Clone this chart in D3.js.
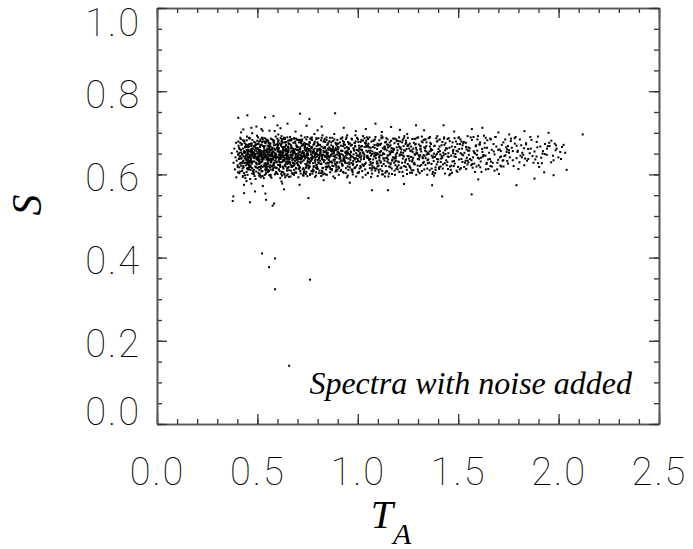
<!DOCTYPE html>
<html>
<head>
<meta charset="utf-8">
<script src="https://cdn.jsdelivr.net/npm/d3@7"></script>
<style>
  body { margin: 0; background: #fff; }
  svg { display: block; }
  .lbl { font-family: "Roboto", "Inter", sans-serif; font-weight: 100; font-size: 38px; fill: #000; letter-spacing: 2px; }
  .serif { font-family: "Liberation Serif", "Times New Roman", Times, "DejaVu Serif", serif; font-style: italic; }
</style>
</head>
<body>
<svg id="chart" width="693" height="549"></svg>
<script>
// tick values
const taTicks = [0, 0.5, 1.0, 1.5, 2.0, 2.5];
const sTicks = [0, 0.2, 0.4, 0.6, 0.8, 1.0];

// main band of points, T_A (left to right)
const cloudTA = [
  .372,.381,.385,.388,.391,.394,.397,.399,.402,.404,
  .406,.408,.410,.411,.413,.415,.416,.418,.419,.421,
  .422,.424,.425,.427,.428,.430,.431,.433,.434,.435,
  .437,.438,.439,.441,.442,.443,.444,.445,.446,.447,
  .448,.449,.450,.451,.452,.453,.446,.419,.433,.395,
  .451,.461,.470,.478,.489,.497,.506,.514,.525,.537,
  .453,.459,.467,.481,.487,.499,.508,.519,.529,.541,
  .456,.464,.472,.483,.491,.501,.511,.521,.532,.545,
  .458,.466,.475,.485,.494,.503,.513,.523,.534,.548,
  .452,.463,.473,.482,.493,.504,.516,.526,.538,.549,
  .455,.465,.476,.487,.496,.507,.517,.528,.539,.544,
  .457,.468,.477,.488,.498,.509,.518,.531,.540,.550,
  .450,.460,.471,.480,.490,.500,.510,.520,.530,.543,
  .454,.467,.474,.484,.495,.505,.515,.524,.535,.546,
  .459,.469,.479,.490,.499,.511,.522,.533,.541,.547,
  .452,.461,.472,.486,.492,.502,.512,.527,.536,.548,
  .456,.466,.478,.489,.497,.508,.519,.529,.542,.551,
  .453,.463,.474,.485,.496,.506,.514,.526,.537,.549,
  .458,.470,.481,.491,.501,.513,.523,.532,.544,.550,
  .451,.464,.476,.483,.494,.504,.517,.525,.539,.545,
  .552,.560,.571,.579,.588,.598,.607,.615,.626,.636,
  .554,.563,.569,.582,.590,.601,.609,.620,.630,.640,
  .557,.565,.574,.584,.593,.603,.612,.622,.633,.644,
  .559,.567,.576,.586,.595,.604,.614,.624,.635,.647,
  .553,.562,.573,.583,.592,.605,.617,.627,.637,.649,
  .556,.566,.577,.588,.597,.608,.616,.628,.638,.643,
  .558,.568,.578,.589,.599,.610,.619,.632,.641,.650,
  .551,.561,.572,.581,.591,.600,.611,.621,.631,.642,
  .555,.566,.575,.585,.596,.606,.616,.625,.634,.645,
  .560,.570,.580,.591,.600,.612,.623,.634,.642,.648,
  .553,.562,.573,.587,.593,.603,.613,.628,.637,.646,
  .557,.567,.579,.590,.598,.609,.620,.630,.643,.649,
  .554,.564,.575,.586,.597,.607,.615,.627,.638,.647,
  .559,.571,.582,.592,.602,.614,.624,.633,.645,.650,
  .552,.565,.577,.584,.595,.605,.618,.626,.640,.646,
  .652,.661,.669,.678,.688,.697,.706,.716,.727,.738,
  .655,.663,.672,.682,.691,.700,.710,.720,.731,.742,
  .657,.666,.674,.684,.694,.703,.713,.723,.733,.745,
  .659,.668,.677,.687,.696,.705,.715,.725,.736,.748,
  .651,.662,.673,.681,.692,.704,.714,.726,.737,.749,
  .654,.665,.676,.686,.695,.707,.717,.728,.739,.744,
  .656,.667,.678,.689,.699,.709,.719,.730,.740,.750,
  .650,.660,.671,.680,.690,.701,.711,.721,.732,.743,
  .653,.664,.675,.685,.693,.702,.712,.724,.734,.746,
  .658,.670,.679,.690,.698,.708,.718,.729,.741,.747,
  .652,.663,.674,.683,.694,.706,.716,.727,.735,.744,
  .657,.668,.680,.688,.697,.706,.720,.731,.739,.749,
  .655,.666,.677,.684,.693,.704,.713,.722,.738,.748,
  .752,.761,.771,.780,.790,.799,.808,.818,.829,.840,
  .754,.764,.773,.783,.792,.802,.811,.822,.832,.843,
  .757,.766,.776,.786,.795,.804,.814,.824,.835,.846,
  .759,.769,.778,.788,.797,.807,.817,.827,.837,.848,
  .751,.762,.774,.785,.794,.805,.815,.826,.838,.849,
  .756,.767,.777,.789,.798,.809,.819,.830,.841,.845,
  .758,.768,.779,.791,.800,.812,.821,.833,.842,.850,
  .753,.763,.772,.782,.793,.803,.813,.823,.834,.844,
  .755,.765,.775,.784,.796,.806,.816,.825,.836,.847,
  .760,.770,.781,.787,.799,.810,.820,.831,.839,.849,
  .752,.762,.775,.786,.797,.808,.818,.828,.840,.846,
  .852,.863,.872,.882,.893,.903,.913,.924,.935,.946,
  .855,.866,.876,.886,.896,.906,.917,.927,.938,.948,
  .858,.869,.878,.889,.899,.909,.920,.930,.941,.950,
  .851,.861,.871,.884,.894,.905,.915,.925,.936,.944,
  .856,.867,.877,.887,.898,.908,.918,.929,.939,.949,
  .853,.864,.874,.885,.895,.904,.916,.926,.937,.947,
  .859,.868,.879,.890,.900,.911,.921,.931,.942,.950,
  .854,.865,.875,.883,.897,.907,.919,.928,.940,.945,
  .857,.862,.873,.888,.892,.902,.912,.923,.933,.943,
  .953,.965,.976,.987,.998,1.009,1.020,1.031,1.042,.958,
  .956,.968,.979,.990,1.001,1.012,1.023,1.034,1.045,.972,
  .960,.971,.982,.993,1.004,1.015,1.026,1.037,1.048,.985,
  .951,.963,.974,.985,.996,1.007,1.018,1.029,1.040,1.049,
  .955,.967,.978,.989,1.000,1.011,1.022,1.033,1.044,.996,
  .958,.969,.981,.992,1.003,1.014,1.025,1.036,1.047,1.005,
  .962,.973,.984,.995,1.006,1.017,1.028,1.039,1.050,1.020,
  .954,.966,.977,.988,.999,1.010,1.021,1.032,1.043,1.013,
  1.052,1.064,1.075,1.087,1.098,1.110,1.121,1.133,1.144,1.058,
  1.055,1.067,1.078,1.090,1.101,1.113,1.124,1.136,1.147,1.083,
  1.059,1.070,1.082,1.093,1.105,1.116,1.128,1.139,1.150,1.096,
  1.051,1.062,1.073,1.085,1.096,1.108,1.119,1.131,1.142,1.107,
  1.056,1.068,1.080,1.091,1.103,1.114,1.126,1.137,1.148,1.120,
  1.061,1.072,1.084,1.095,1.106,1.118,1.129,1.141,1.146,1.132,
  1.053,1.066,1.077,1.088,1.099,1.111,1.122,1.134,1.145,1.104,
  1.152,1.164,1.177,1.189,1.201,1.213,1.226,1.238,1.247,1.170,
  1.155,1.168,1.180,1.192,1.204,1.217,1.229,1.241,1.249,1.196,
  1.158,1.171,1.183,1.195,1.208,1.220,1.232,1.244,1.160,1.211,
  1.151,1.163,1.175,1.187,1.199,1.212,1.224,1.236,1.248,1.184,
  1.157,1.169,1.182,1.194,1.206,1.218,1.231,1.243,1.190,1.222,
  1.153,1.166,1.179,1.191,1.203,1.215,1.228,1.240,1.246,1.174,
  1.161,1.186,1.205,1.227,1.239,
  1.253,1.266,1.279,1.292,1.305,1.318,1.331,1.344,1.260,1.312,
  1.256,1.270,1.283,1.296,1.309,1.322,1.335,1.347,1.288,1.327,
  1.259,1.273,1.286,1.299,1.312,1.325,1.338,1.349,1.276,1.301,
  1.251,1.264,1.277,1.290,1.303,1.316,1.329,1.342,1.268,1.337,
  1.258,1.271,1.285,1.298,1.311,1.324,1.336,1.346,1.293,1.319,
  1.262,1.281,1.307,1.333,1.341,
  1.353,1.367,1.381,1.395,1.409,1.423,1.437,1.448,1.360,1.402,
  1.356,1.370,1.384,1.398,1.412,1.426,1.440,1.374,1.390,1.431,
  1.359,1.373,1.387,1.401,1.415,1.429,1.443,1.364,1.418,1.446,
  1.351,1.365,1.379,1.393,1.407,1.421,1.435,1.449,1.385,1.428,
  1.357,1.378,1.396,1.411,1.433,1.444,1.368,1.405,
  1.453,1.468,1.483,1.498,1.513,1.528,1.543,1.460,1.505,1.537,
  1.456,1.471,1.486,1.501,1.516,1.531,1.546,1.476,1.492,1.522,
  1.459,1.474,1.489,1.504,1.519,1.534,1.549,1.465,1.511,1.540,
  1.451,1.466,1.481,1.496,1.509,1.525,1.539,1.479,1.518,1.547,
  1.553,1.570,1.587,1.604,1.621,1.638,1.562,1.595,1.612,1.644,
  1.557,1.574,1.591,1.608,1.625,1.642,1.580,1.616,1.632,1.566,
  1.551,1.568,1.585,1.602,1.619,1.636,1.598,1.628,1.649,1.577,
  1.610,1.589,
  1.654,1.672,1.690,1.708,1.726,1.744,1.663,1.699,1.717,1.735,
  1.658,1.676,1.694,1.712,1.730,1.748,1.667,1.685,1.721,1.739,
  1.681,1.703,1.741,1.660,1.725,1.714,
  1.753,1.772,1.791,1.810,1.829,1.848,1.762,1.800,1.819,1.838,
  1.757,1.776,1.795,1.814,1.833,1.781,1.805,1.824,1.843,1.767,
  1.856,1.875,1.894,1.913,1.932,1.865,1.903,1.922,1.941,1.884,
  1.861,1.890,1.917,1.946,1.928,
  1.955,1.972,1.990,2.008,2.025,1.963,1.981,1.999,2.017,2.033,
  1.985,2.012
];

// main band of points, S (same order as cloudTA)
const cloudS = [
  .651,.628,.662,.612,.641,.676,.633,.655,.618,.647,
  .669,.637,.603,.652,.626,.688,.644,.659,.621,.639,
  .673,.608,.648,.631,.662,.644,.617,.681,.652,.627,
  .639,.665,.598,.654,.636,.672,.622,.646,.659,.633,
  .691,.614,.650,.640,.667,.625,.584,.701,.575,.593,
  .643,.628,.661,.652,.619,.637,.674,.646,.608,.657,
  .635,.667,.648,.603,.642,.681,.631,.654,.639,.622,
  .659,.641,.626,.668,.649,.615,.644,.672,.653,.636,
  .617,.655,.683,.639,.627,.661,.598,.646,.665,.641,
  .649,.633,.656,.611,.671,.642,.629,.688,.645,.624,
  .666,.621,.645,.658,.637,.652,.614,.639,.677,.603,
  .642,.674,.631,.647,.693,.625,.657,.641,.618,.662,
  .628,.647,.669,.606,.644,.663,.636,.621,.650,.679,
  .671,.639,.615,.653,.628,.646,.684,.632,.658,.645,
  .612,.658,.643,.676,.651,.601,.640,.664,.627,.655,
  .654,.686,.627,.641,.662,.634,.648,.572,.668,.638,
  .639,.611,.652,.665,.624,.679,.643,.656,.609,.633,
  .667,.645,.699,.631,.656,.642,.618,.705,.650,.626,
  .622,.653,.640,.589,.673,.659,.636,.647,.684,.660,
  .657,.632,.663,.648,.607,.638,.670,.596,.641,.615,
  .648,.671,.633,.655,.617,.642,.663,.629,.651,.688,
  .626,.645,.659,.641,.602,.668,.637,.654,.614,.646,
  .663,.612,.648,.676,.639,.623,.652,.683,.640,.631,
  .637,.658,.621,.644,.662,.696,.618,.647,.665,.609,
  .652,.634,.684,.627,.649,.641,.672,.606,.658,.643,
  .619,.667,.643,.659,.631,.654,.637,.661,.624,.678,
  .646,.629,.611,.650,.673,.638,.601,.645,.669,.636,
  .681,.653,.638,.621,.645,.662,.648,.674,.632,.655,
  .634,.599,.664,.652,.616,.647,.629,.641,.687,.662,
  .657,.644,.626,.691,.655,.620,.666,.635,.648,.614,
  .640,.675,.652,.633,.606,.671,.644,.658,.621,.650,
  .668,.637,.615,.647,.664,.630,.692,.653,.639,.625,
  .627,.660,.646,.704,.641,.612,.656,.634,.677,.643,
  .653,.619,.670,.638,.657,.648,.578,.666,.628,.639,
  .611,.648,.636,.662,.629,.682,.645,.619,.658,.597,
  .644,.626,.667,.651,.633,.659,.614,.646,.672,.638,
  .662,.641,.618,.687,.647,.625,.655,.639,.603,.657,
  .629,.653,.645,.622,.670,.642,.661,.684,.648,.617,
  .673,.609,.656,.639,.628,.652,.646,.612,.666,.651,
  .636,.682,.640,.658,.615,.665,.630,.656,.642,.690,
  .655,.647,.601,.633,.649,.621,.678,.644,.625,.660,
  .618,.663,.652,.675,.638,.656,.643,.597,.659,.632,
  .648,.636,.685,.627,.661,.644,.617,.669,.652,.623,
  .667,.629,.646,.653,.604,.683,.640,.631,.676,.649,
  .631,.657,.620,.642,.666,.637,.693,.650,.616,.641,
  .653,.690,.634,.611,.648,.659,.627,.643,.663,.606,
  .640,.622,.661,.679,.635,.613,.652,.672,.645,.628,
  .675,.646,.628,.657,.686,.641,.608,.639,.658,.664,
  .649,.631,.664,.618,.652,.677,.640,.626,.657,.644,
  .622,.658,.645,.673,.605,.647,.662,.637,.681,.653,
  .661,.640,.612,.649,.668,.629,.655,.694,.634,.619,
  .637,.684,.653,.628,.643,.661,.603,.647,.663,.671,
  .655,.619,.638,.662,.687,.636,.650,.615,.642,.628,
  .672,.648,.627,.641,.656,.609,.667,.653,.626,.658,
  .630,.664,.659,.616,.634,.650,.644,.679,.612,.646,
  .646,.601,.683,.655,.622,.670,.633,.641,.665,.689,
  .614,.654,.641,.697,.650,.627,.659,.606,.645,.638,
  .668,.635,.620,.646,.660,.644,.688,.630,.654,.617,
  .639,.676,.651,.633,.618,.658,.625,.664,.600,.649,
  .643,.662,.628,.651,.617,.674,.639,.656,.632,.648,
  .620,.647,.680,.636,.660,.645,.611,.668,.652,.627,
  .665,.631,.644,.607,.654,.629,.686,.641,.615,.663,
  .652,.688,.613,.659,.640,.665,.634,.622,.671,.640,
  .634,.656,.667,.625,.683,.638,.649,.604,.644,.657,
  .676,.613,.650,.642,.629,.653,.669,.646,.628,.694,
  .641,.670,.635,.663,.612,.647,.625,.678,.655,.619,
  .626,.644,.659,.697,.648,.616,.657,.636,.603,.666,
  .659,.630,.621,.646,.673,.660,.642,.689,.637,.650,
  .638,.655,.623,.667,.646,.614,.659,.637,.681,.649,
  .661,.627,.648,.639,.684,.652,.624,.666,.643,.609,
  .617,.671,.657,.630,.656,.641,.692,.612,.654,.636,
  .652,.640,.606,.675,.622,.663,.645,.650,.628,.670,
  .673,.644,.663,.618,.658,.631,.608,.647,.666,.688,
  .629,.686,.639,.651,.603,.678,.653,.625,.640,.644,
  .647,.611,.676,.645,.669,.636,.621,.674,.604,.659,
  .664,.653,.632,.694,.637,.649,.668,.642,.657,.620,
  .641,.664,.628,.652,.619,.671,.646,.633,.658,.689,
  .657,.626,.682,.639,.648,.612,.663,.677,.631,.644,
  .623,.649,.643,.670,.605,.656,.638,.620,.665,.651,
  .668,.637,.655,.614,.661,.640,.687,.649,.608,.634,
  .635,.679,.617,.646,.673,.628,.651,.662,.645,.600,
  .652,.615,.664,.631,.642,.693,.625,.639,.672,.660,
  .674,.645,.636,.690,.627,.653,.608,.667,.640,.621,
  .646,.627,.662,.639,.673,.615,.652,.634,.668,.601,
  .619,.657,.641,.684,.630,.660,.643,.676,.625,.652,
  .667,.633,.609,.651,.645,.628,.692,.611,.648,.663,
  .636,.670,.654,.622,.612,.679,.638,.657,.644,.686,
  .655,.614,.638,.665,.689,.647,.620,.661,.633,.606,
  .628,.681,.659,.643,.622,.653,.668,.636,.697,.641,
  .650,.631,.667,.645,.618,
  .644,.667,.625,.653,.636,.679,.612,.648,.604,.661,
  .662,.631,.649,.688,.620,.641,.657,.634,.673,.646,
  .618,.654,.672,.637,.660,.627,.684,.651,.640,.607,
  .671,.642,.610,.664,.646,.655,.630,.677,.658,.623,
  .633,.685,.647,.621,.669,.639,.663,.614,.650,.691,
  .656,.628,.642,.645,.668,
  .649,.625,.668,.637,.656,.614,.675,.643,.690,.661,
  .628,.659,.642,.681,.619,.652,.634,.606,.647,.671,
  .667,.640,.611,.654,.638,.686,.622,.657,.644,.630,
  .636,.673,.650,.624,.667,.640,.658,.613,.603,.646,
  .655,.632,.692,.648,.627,.662,.645,.617,
  .642,.667,.626,.655,.615,.678,.640,.601,.661,.633,
  .664,.631,.649,.688,.637,.652,.624,.659,.609,.670,
  .619,.656,.679,.636,.662,.628,.657,.645,.684,.613,
  .651,.621,.643,.606,.673,.646,.666,.632,.648,.692,
  .647,.625,.668,.638,.654,.612,.689,.657,.631,.664,
  .663,.641,.619,.672,.646,.628,.652,.606,.675,.634,
  .629,.683,.650,.622,.661,.645,.640,.693,.636,.656,
  .617,.670,
  .652,.628,.667,.641,.619,.660,.684,.635,.671,.646,
  .637,.673,.612,.656,.644,.626,.659,.690,.633,.665,
  .648,.601,.654,.620,.677,.643,
  .658,.634,.669,.645,.622,.661,.680,.613,.652,.675,
  .641,.620,.654,.670,.638,.687,.629,.647,.633,.664,
  .651,.628,.665,.640,.673,.683,.618,.656,.647,.636,
  .662,.643,.627,.668,.605,
  .668,.645,.662,.654,.671,.629,.674,.641,.666,.652,
  .658,.637
];

// wider spread of the band, T_A
const wideTA = [
  .402,.411,.419,.428,.436,.445,.453,.462,.471,.480,
  .405,.414,.423,.431,.440,.448,.457,.466,.475,.489,
  .408,.417,.426,.434,.443,.451,.460,.468,.477,.493,
  .403,.412,.421,.430,.438,.447,.455,.464,.473,.484,
  .409,.418,.427,.435,.444,.452,.461,.469,.478,.497,
  .406,.415,.424,.433,.441,.450,.458,.467,.476,.486,
  .410,.420,.429,.437,.446,.454,.463,.472,.482,.499,
  .502,.510,.518,.527,.535,.543,.552,.561,.570,.580,
  .505,.513,.521,.530,.538,.547,.556,.565,.575,.589,
  .508,.516,.524,.533,.541,.550,.559,.568,.578,.594,
  .503,.511,.520,.528,.537,.545,.554,.563,.573,.585,
  .507,.515,.523,.532,.540,.549,.558,.567,.577,.597,
  .504,.512,.522,.531,.539,.548,.557,.566,.576,.591,
  .509,.517,.526,.534,.544,.553,.562,.572,.582,.599,
  .501,.514,.525,.536,.546,.555,.564,.574,.583,.587,
  .601,.610,.619,.628,.637,.646,.655,.665,.675,.686,
  .604,.613,.622,.631,.640,.649,.658,.668,.679,.691,
  .607,.616,.625,.634,.643,.652,.661,.671,.682,.695,
  .602,.611,.620,.629,.638,.647,.656,.666,.677,.688,
  .606,.615,.624,.633,.642,.651,.660,.670,.681,.698,
  .603,.612,.621,.630,.639,.648,.657,.667,.678,.692,
  .608,.617,.626,.635,.644,.653,.662,.673,.684,.697,
  .605,.614,.627,.641,.654,.669,.685,
  .701,.711,.721,.731,.741,.751,.761,.771,.781,.791,
  .704,.714,.724,.734,.744,.754,.764,.774,.784,.796,
  .707,.717,.727,.737,.747,.757,.767,.777,.787,.799,
  .702,.712,.722,.732,.742,.752,.762,.772,.783,.794,
  .706,.716,.726,.736,.746,.756,.766,.776,.786,.797,
  .709,.719,.729,.739,.749,.759,.769,.779,.789,.792,
  .703,.718,.733,.748,.763,
  .801,.812,.823,.834,.845,.856,.867,.878,.889,.897,
  .804,.815,.826,.837,.848,.859,.870,.881,.892,.899,
  .807,.818,.829,.840,.851,.862,.873,.884,.895,.893,
  .802,.813,.824,.835,.846,.857,.868,.879,.890,.886,
  .806,.817,.828,.839,.850,.861,.872,.883,.894,.877,
  .809,.821,.838,.853,.874,
  .902,.914,.926,.938,.950,.962,.974,.986,.997,.908,
  .905,.917,.929,.941,.953,.965,.977,.989,.999,.933,
  .911,.923,.935,.947,.959,.971,.983,.994,.920,.956,
  .903,.915,.927,.939,.951,.963,.975,.987,.944,.968,
  .906,.930,.958,.980,.992,
  1.003,1.015,1.027,1.039,1.051,1.063,1.075,1.087,1.098,1.009,
  1.006,1.018,1.030,1.042,1.054,1.066,1.078,1.090,1.033,1.060,
  1.012,1.024,1.036,1.048,1.071,1.083,1.095,1.021,1.045,1.093,
  1.001,1.026,1.057,1.069,1.081,1.099,1.040,1.072,1.016,1.085,
  1.050,1.064,
  1.103,1.116,1.129,1.142,1.155,1.168,1.181,1.194,1.109,1.135,
  1.107,1.120,1.133,1.146,1.159,1.172,1.185,1.198,1.148,1.162,
  1.111,1.124,1.137,1.150,1.163,1.176,1.189,1.126,1.178,1.192,
  1.101,1.114,1.140,1.153,1.166,1.183,1.196,1.118,
  1.203,1.217,1.231,1.245,1.259,1.273,1.287,1.299,1.210,1.252,
  1.207,1.221,1.235,1.249,1.263,1.277,1.291,1.224,1.266,1.284,
  1.212,1.226,1.240,1.254,1.268,1.282,1.296,1.238,1.270,1.201,
  1.229,1.257,1.279,1.293,
  1.304,1.319,1.334,1.349,1.364,1.379,1.394,1.311,1.356,1.387,
  1.308,1.323,1.338,1.353,1.368,1.383,1.398,1.327,1.372,1.342,
  1.301,1.316,1.331,1.346,1.361,1.376,1.391,1.358,1.313,1.395,
  1.405,1.421,1.437,1.453,1.469,1.485,1.413,1.447,1.478,1.496,
  1.408,1.424,1.440,1.456,1.472,1.488,1.430,1.463,1.492,1.401,
  1.417,1.434,1.458,1.475,1.482,1.499,
  1.504,1.521,1.538,1.555,1.572,1.589,1.512,1.547,1.580,1.596,
  1.508,1.525,1.542,1.559,1.576,1.593,1.530,1.565,1.516,1.551,
  1.584,1.599,
  1.605,1.623,1.641,1.659,1.677,1.695,1.614,1.650,1.686,1.632,
  1.609,1.627,1.645,1.663,1.681,1.699,1.668,1.637,
  1.706,1.725,1.744,1.763,1.782,1.715,1.753,1.791,1.734,1.772,
  1.710,1.748,1.786,1.797,
  1.807,1.828,1.849,1.870,1.891,1.817,1.859,1.838,1.880,1.898,
  1.909,1.931,1.953,1.975,1.920,1.964,1.942,1.987
];

// wider spread of the band, S (same order as wideTA)
const wideS = [
  .622,.661,.638,.596,.675,.645,.612,.687,.630,.653,
  .679,.607,.649,.633,.591,.666,.623,.642,.602,.670,
  .638,.685,.614,.656,.628,.599,.673,.635,.661,.617,
  .605,.643,.671,.620,.652,.682,.631,.589,.647,.678,
  .664,.628,.594,.680,.637,.615,.655,.669,.608,.641,
  .649,.676,.627,.603,.668,.634,.688,.618,.650,.596,
  .617,.653,.682,.642,.606,.659,.630,.674,.601,.662,
  .673,.611,.649,.684,.626,.602,.660,.638,.592,.677,
  .604,.666,.630,.652,.687,.619,.645,.674,.610,.641,
  .656,.593,.678,.621,.647,.669,.598,.632,.682,.615,
  .689,.635,.607,.668,.599,.653,.681,.617,.662,.628,
  .618,.680,.644,.591,.675,.625,.608,.686,.639,.603,
  .662,.628,.688,.636,.612,.683,.634,.595,.654,.671,
  .597,.651,.618,.679,.658,.606,.667,.649,.624,.686,
  .635,.670,.596,.642,.614,.676,.622,.660,.681,.600,
  .601,.674,.642,.617,.685,.630,.658,.595,.663,.626,
  .680,.623,.597,.666,.638,.689,.610,.647,.676,.605,
  .635,.687,.653,.602,.671,.616,.682,.639,.599,.668,
  .664,.608,.679,.645,.593,.657,.628,.684,.621,.650,
  .612,.650,.630,.688,.661,.600,.673,.618,.655,.683,
  .678,.640,.606,.633,.677,.646,.594,.670,.637,.614,
  .623,.669,.685,.599,.648,.681,.627,.603,.686,.641,
  .659,.591,.677,.619,.665,.682,.604,
  .658,.616,.680,.634,.601,.672,.627,.689,.609,.649,
  .593,.665,.642,.611,.684,.630,.657,.602,.676,.623,
  .677,.636,.598,.668,.646,.617,.687,.654,.594,.660,
  .622,.683,.651,.606,.673,.638,.599,.666,.642,.685,
  .648,.602,.670,.689,.621,.659,.632,.607,.679,.613,
  .682,.653,.615,.644,.596,.678,.608,.671,.636,.597,
  .631,.675,.604,.662,.686,
  .614,.671,.647,.602,.683,.636,.661,.595,.676,.628,
  .687,.625,.600,.666,.642,.680,.610,.655,.622,.674,
  .639,.596,.679,.618,.662,.605,.688,.631,.669,.611,
  .673,.651,.616,.685,.599,.644,.677,.620,.658,.591,
  .603,.682,.635,.655,.672,.617,.650,.684,.608,.664,
  .646,.609,.678,.627,.656,
  .665,.608,.680,.629,.597,.674,.642,.616,.687,.650,
  .599,.657,.633,.685,.611,.669,.626,.679,.604,.640,
  .677,.621,.663,.593,.648,.684,.615,.659,.631,.675,
  .619,.686,.606,.654,.678,.635,.600,.668,.689,.612,
  .651,.673,.624,.660,.595,
  .678,.617,.652,.599,.685,.630,.666,.609,.674,.641,
  .606,.683,.621,.669,.638,.594,.680,.647,.687,.615,
  .660,.593,.676,.645,.602,.671,.626,.658,.689,.614,
  .632,.681,.665,.610,.650,.596,.675,.621,.667,.684,
  .603,.657,
  .611,.674,.639,.687,.602,.663,.628,.680,.654,.595,
  .682,.620,.666,.607,.677,.635,.599,.658,.684,.617,
  .646,.689,.604,.671,.624,.686,.648,.600,.661,.613,
  .669,.631,.678,.595,.653,.675,.618,.688,
  .680,.617,.658,.601,.674,.635,.686,.612,.648,.669,
  .606,.677,.629,.688,.615,.662,.599,.683,.642,.624,
  .665,.596,.681,.638,.610,.685,.651,.673,.604,.631,
  .687,.621,.676,.659,
  .672,.608,.684,.627,.661,.597,.679,.646,.688,.617,
  .603,.677,.639,.687,.614,.669,.630,.683,.601,.655,
  .689,.623,.665,.599,.676,.643,.687,.610,.667,.650,
  .613,.678,.649,.687,.604,.666,.630,.685,.620,.673,
  .684,.624,.663,.598,.677,.642,.689,.611,.657,.636,
  .670,.602,.680,.651,.687,.618,
  .689,.630,.676,.657,.616,.668,.651,.633,.626,.684,
  .612,.675,.660,.637,.690,.647,.618,.622,.679,.665,
  .606,.692,
  .672,.643,.625,.686,.655,.628,.640,.613,.690,.664,
  .677,.646,.682,.631,.609,.659,.619,.688,
  .660,.634,.632,.686,.674,.619,.652,.639,.684,.656,
  .621,.668,.690,.657,
  .684,.663,.637,.644,.678,.641,.690,.672,.655,.627,
  .667,.649,.676,.634,.650,.681,.662,.670
];

// stray points off the band
const strayTA = [.405,.450,.538,.580,.713,.759,.887,1.088,1.166,1.290,1.427,1.568,1.754,1.897,2.120,
  .470,.600,.650,.520,.820,
  .430,.495,.560,.615,.690,.745,.800,.930,.990,1.040,1.120,1.210,1.330,1.480,1.620,1.700,1.830,1.950,
  .380,.377,.434,.463,.488,.540,.543,.576,.583,.633,.754,1.070,1.150,1.370,1.420,1.567,1.790,2.040,1.975,
  .470,.620,.710,.830,.960,1.230,1.600,1.880,
  .523,.558,.588,.588,.762,.658];
const strayS = [.736,.742,.737,.740,.746,.733,.747,.722,.714,.718,.718,.709,.696,.691,.696,
  .712,.718,.722,.709,.715,
  .708,.715,.705,.711,.703,.717,.706,.712,.704,.709,.702,.707,.706,.703,.712,.701,.704,.700,
  .547,.536,.555,.533,.559,.554,.539,.525,.530,.564,.543,.562,.562,.574,.547,.552,.574,.611,.598,
  .578,.583,.575,.586,.580,.577,.588,.590,
  .410,.377,.398,.324,.347,.140];

const margin = { top: 8, right: 34, bottom: 125, left: 157 };
const width = 693 - margin.left - margin.right;
const height = 549 - margin.top - margin.bottom;

const svg = d3.select("#chart");
const g = svg.append("g").attr("transform", `translate(${margin.left},${margin.top})`);

const x = d3.scaleLinear().domain([0, 2.5]).range([0, width]);
const y = d3.scaleLinear().domain([0, 1]).range([height, 0]);

const minorTA = d3.range(0, 26).map(i => i / 10);
const minorS = d3.range(0, 21).map(i => i / 20);

function styleAxis(sel) {
  sel.attr("font-size", null).attr("font-family", null);
  sel.select(".domain").attr("stroke", "#555").attr("stroke-width", 1.6);
  sel.selectAll(".tick line").attr("stroke", "#333").attr("stroke-width", 1.3);
}

// minor ticks on all four sides
g.append("g").attr("transform", `translate(0,${height})`)
  .call(d3.axisBottom(x).tickValues(minorTA).tickSize(-5).tickSizeOuter(0).tickFormat(""))
  .call(styleAxis);
g.append("g")
  .call(d3.axisTop(x).tickValues(minorTA).tickSize(-5).tickSizeOuter(0).tickFormat(""))
  .call(styleAxis);
g.append("g")
  .call(d3.axisLeft(y).tickValues(minorS).tickSize(-5).tickSizeOuter(0).tickFormat(""))
  .call(styleAxis);
g.append("g").attr("transform", `translate(${width},0)`)
  .call(d3.axisRight(y).tickValues(minorS).tickSize(-5).tickSizeOuter(0).tickFormat(""))
  .call(styleAxis);

// major ticks
const xAxis = g.append("g").attr("transform", `translate(0,${height})`)
  .call(d3.axisBottom(x).tickValues(taTicks).tickSize(-10).tickSizeOuter(0).tickFormat(d3.format(".1f")))
  .call(styleAxis);
g.append("g")
  .call(d3.axisTop(x).tickValues(taTicks).tickSize(-10).tickSizeOuter(0).tickFormat(""))
  .call(styleAxis);
const yAxis = g.append("g")
  .call(d3.axisLeft(y).tickValues(sTicks).tickSize(-10).tickSizeOuter(0).tickFormat(d3.format(".1f")))
  .call(styleAxis);
g.append("g").attr("transform", `translate(${width},0)`)
  .call(d3.axisRight(y).tickValues(sTicks).tickSize(-10).tickSizeOuter(0).tickFormat(""))
  .call(styleAxis);

xAxis.selectAll("text")
  .attr("class", "lbl")
  .attr("y", 61).attr("dy", null);

// labels sit just under their tick, kept inside the frame
yAxis.selectAll("text")
  .attr("class", "lbl")
  .attr("x", -16)
  .attr("dy", null)
  .attr("y", d => Math.min(Math.max(y(d) + 16, 27), height) - y(d));

// points
const allTA = cloudTA.concat(wideTA, strayTA);
const allS = cloudS.concat(wideS, strayS);
g.append("g")
  .attr("fill", "#000")
  .selectAll("rect")
  .data(d3.zip(allTA, allS))
  .join("rect")
  .attr("x", d => x(d[0]) - 1)
  .attr("y", d => y(d[1]) - 1)
  .attr("width", 2)
  .attr("height", 2);

// note inside the frame
g.append("text")
  .attr("class", "serif")
  .attr("x", 475)
  .attr("y", 386)
  .attr("text-anchor", "end")
  .style("font-size", "32px")
  .text("Spectra with noise added");

// axis titles
const xt = svg.append("text")
  .attr("class", "serif")
  .attr("x", 391)
  .attr("y", 528)
  .attr("text-anchor", "middle")
  .style("font-size", "40px");
xt.append("tspan").text("T");
xt.append("tspan").attr("dy", 16).style("font-size", "30px").text("A");

svg.append("text")
  .attr("class", "serif")
  .attr("transform", "translate(41,205) rotate(-90)")
  .attr("text-anchor", "middle")
  .style("font-size", "42px")
  .text("S");
</script>
</body>
</html>
